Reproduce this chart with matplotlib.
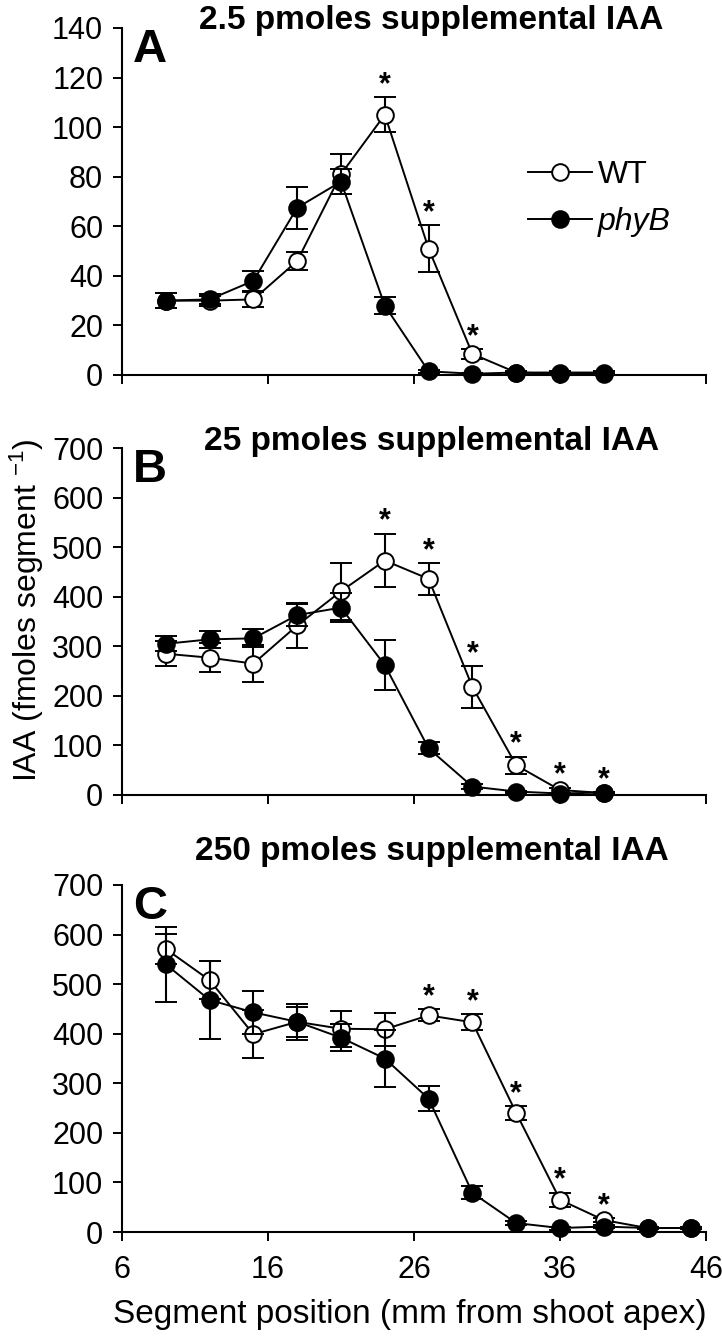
import matplotlib
matplotlib.use("Agg")
import matplotlib.pyplot as plt
from matplotlib.lines import Line2D
import numpy as np

plt.rcParams['font.family'] = ['Liberation Sans', 'DejaVu Sans']
plt.rcParams['mathtext.default'] = 'regular'

# ---- data ----
x_ab = [9, 12, 15, 18, 21, 24, 27, 30, 33, 36, 39]
x_c = [9, 12, 15, 18, 21, 24, 27, 30, 33, 36, 39, 42, 45]

a_wt = [30, 30, 30.5, 46, 81, 105, 51, 8.5, 1, 1, 1]
a_wt_err = [3, 2, 3, 3.6, 8, 7, 9.5, 2, 0.5, 0.5, 0.5]
a_phyb = [30, 30.5, 38, 67.5, 78, 28, 1.5, 0.5, 1, 0.5, 0.5]
a_phyb_err = [3, 2, 4, 8.5, 5, 3.5, 0.5, 0.3, 0.3, 0.3, 0.3]
a_star = [24, 27, 30]

b_wt = [285, 277, 265, 342, 411, 473, 436, 218, 60, 10, 4]
b_wt_err = [25, 29, 38, 45, 57, 54, 32, 42, 17, 5, 2]
b_phyb = [305, 314, 316, 363, 378, 262, 94, 17, 7, 3, 5]
b_phyb_err = [15, 17, 18, 23, 30, 50, 12, 5, 2, 2, 2]
b_star = [24, 27, 30, 33, 36, 39]

c_wt = [571, 508, 399, 424, 410, 409, 437, 423, 240, 65, 24, 8, 8]
c_wt_err = [30, 38, 48, 30, 36, 33, 12, 16, 14, 14, 4, 2, 2]
c_phyb = [540, 468, 443, 424, 392, 350, 269, 79, 18, 8, 11, 8, 8]
c_phyb_err = [76, 78, 44, 36, 27, 57, 25, 13, 4, 3, 3, 2, 2]
c_star = [27, 30, 33, 36, 39]

titles = ['2.5 pmoles supplemental IAA', '25 pmoles supplemental IAA',
          '250 pmoles supplemental IAA']
letters = ['A', 'B', 'C']
x_ticks = [6, 16, 26, 36, 46]
series_names = ['WT', 'phyB']

W, H = 722, 1337
fig = plt.figure(figsize=(W / 100, H / 100), dpi=100)


def ax_rect(left, right, top, bottom):
    return [left / W, 1 - bottom / H, (right - left) / W, (bottom - top) / H]


rects = [ax_rect(122, 706, 28, 375), ax_rect(122, 706, 448, 795), ax_rect(122, 706, 885, 1232)]
title_offsets = [-0.8, -1.2, 18]   # baseline offset above axes top, points
panels = [
    (x_ab, a_wt, a_wt_err, a_phyb, a_phyb_err, a_star, 140, 20),
    (x_ab, b_wt, b_wt_err, b_phyb, b_phyb_err, b_star, 700, 100),
    (x_c, c_wt, c_wt_err, c_phyb, c_phyb_err, c_star, 700, 100),
]

MS = 12
axes = []
for i, (rect, p) in enumerate(zip(rects, panels)):
    xs, wt, wte, pb, pbe, stars, ymax, ystep = p
    ax = fig.add_axes(rect)
    axes.append(ax)
    ekw = dict(elinewidth=1.5, capsize=8, capthick=1.7, clip_on=False)
    ax.errorbar(xs, wt, yerr=wte, fmt='-o', color='black', mfc='white', mec='black',
                ms=MS, mew=1.4, lw=1.4, zorder=3, **ekw)
    ax.errorbar(xs, pb, yerr=pbe, fmt='-o', color='black', mfc='black', mec='black',
                ms=MS, mew=1.4, lw=1.4, zorder=4, **ekw)
    for s in stars:
        j = xs.index(s)
        top = wt[j] + wte[j]
        ax.annotate('*', xy=(s, top), xytext=(0, 3), textcoords='offset points',
                    ha='center', va='baseline', fontsize=22, fontweight='bold')
    ax.set_xlim(6, 46)
    ax.set_ylim(0, ymax)
    ax.set_xticks(x_ticks)
    ax.set_yticks(np.arange(0, ymax + 1, ystep))
    for sp in ['top', 'right']:
        ax.spines[sp].set_visible(False)
    for sp in ['left', 'bottom']:
        ax.spines[sp].set_linewidth(1.5)
    ax.tick_params(axis='both', direction='out', length=6.5, width=1.4, labelsize=22)
    ax.tick_params(axis='y', pad=7)
    ax.tick_params(axis='x', pad=10)
    if i < 2:
        ax.set_xticklabels([])
    ax.annotate(titles[i], xy=(0.53, 1.0), xycoords='axes fraction',
                xytext=(0, title_offsets[i]), textcoords='offset points',
                ha='center', va='baseline', fontsize=24, fontweight='bold',
                annotation_clip=False)
    ax.text(0.019, 1.0, letters[i], transform=ax.transAxes, fontsize=34,
            fontweight='bold', ha='left', va='top')

handles = [
    Line2D([], [], color='black', lw=1.4, marker='o', ms=MS, mfc='white', mec='black', mew=1.4),
    Line2D([], [], color='black', lw=1.4, marker='o', ms=MS, mfc='black', mec='black', mew=1.4),
]
leg = axes[0].legend(handles, series_names, loc='upper left', bbox_to_anchor=(0.695, 0.62),
                     frameon=False, fontsize=23, handlelength=2.0, handletextpad=0.2,
                     labelspacing=0.55, borderpad=0, borderaxespad=0)
leg.get_texts()[1].set_fontstyle('italic')

fig.text(27 / W, 1 - 610 / H, 'IAA (fmoles segment $^{-1}$)', rotation=90,
         ha='center', va='center', fontsize=23)
fig.text(410 / W, 1 - 1315 / H, 'Segment position (mm from shoot apex)',
         ha='center', va='center', fontsize=24)

fig.savefig('out.png', dpi=100)
